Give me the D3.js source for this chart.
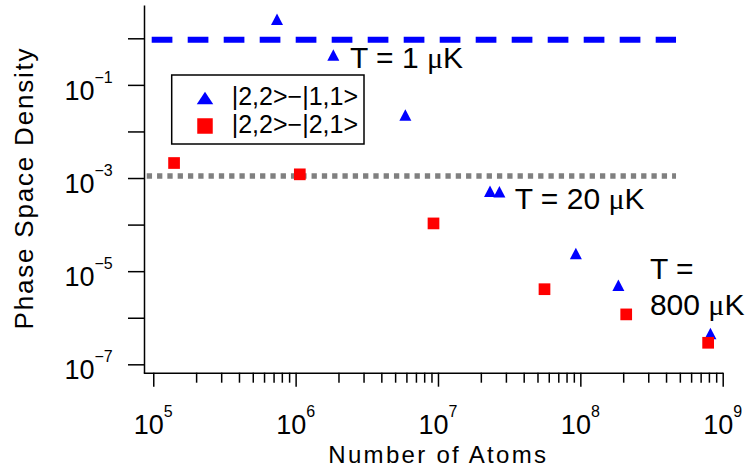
<!DOCTYPE html>
<html>
<head>
<meta charset="utf-8">
<script src="https://cdn.jsdelivr.net/npm/d3@7"></script>
<style>
  body { margin: 0; background: #fff; }
  text { font-family: "Liberation Sans", Arial, sans-serif; fill: #000; }
</style>
</head>
<body>
<script>
// Data (number of atoms vs phase space density)
const seriesNames = ["|2,2>\u2212|1,1>", "|2,2>\u2212|2,1>"];
const tripletAtoms = [7.4e5, 1.84e6, 5.9e6, 2.32e7, 2.7e7, 9.3e7, 1.85e8, 8.2e8];
const tripletPSD = [2.57, 0.44, 0.0225, 5.2e-4, 5.1e-4, 2.4e-5, 5.0e-6, 4.6e-7];
const doubletAtoms = [1.4e5, 1.07e6, 9.3e6, 5.6e7, 2.1e8, 7.9e8];
const doubletPSD = [2.1e-3, 1.2e-3, 1.06e-4, 4.1e-6, 1.18e-6, 2.9e-7];
// Reference levels
const levelNames = ["T = 1 \u03bcK", "T = 20 \u03bcK"];
const levelPSD = [0.93, 1.1e-3];
const levelAtomsStart = [9.75e4, 9.0e4];
const levelAtomsEnd = [4.7e8, 4.7e8];
// Ticks
const yMajorTicks = [1, 1e-1, 1e-2, 1e-3, 1e-4, 1e-5, 1e-6, 1e-7];
const yLabelExps = [-1, -3, -5, -7];
const xLabelExps = [5, 6, 7, 8, 9];

const width = 751, height = 469;
const blue = "#0000ff", red = "#ff0000", gray = "#808080";

const svg = d3.select("body").append("svg")
  .attr("width", width)
  .attr("height", height);

const x = d3.scaleLog().domain([Math.pow(10, 4.93), 1e9]).range([143.3, 722.7]);
const y = d3.scaleLog().domain([Math.pow(10, -7.18), Math.pow(10, 0.715)]).range([372.7, 5]);

// x ticks: 1..9 x 10^n
const xTicks = [];
for (let e = 5; e <= 8; e++) for (let m = 1; m <= 9; m++) xTicks.push(m * Math.pow(10, e));
xTicks.push(1e9);
const isMajor = v => Math.abs(Math.log10(v) - Math.round(Math.log10(v))) < 1e-9;

const xAxis = svg.append("g")
  .attr("transform", `translate(0,${372.7})`)
  .call(d3.axisBottom(x).tickValues(xTicks).tickFormat("").tickSizeOuter(0));
xAxis.selectAll(".tick line")
  .attr("y2", d => isMajor(d) ? 14 : 10);

const yAxis = svg.append("g")
  .attr("transform", `translate(${144},0)`)
  .call(d3.axisLeft(y).tickValues(yMajorTicks).tickFormat("").tickSize(16).tickSizeOuter(0));

svg.selectAll(".domain, .tick line")
  .attr("stroke", "#000")
  .attr("stroke-width", 1.5);

// tick labels with superscripts
const xLab = svg.append("g").selectAll("text")
  .data(xLabelExps).enter().append("text")
  .attr("x", d => x(Math.pow(10, d)))
  .attr("y", 434)
  .attr("text-anchor", "middle")
  .style("font-size", "27px");
xLab.append("tspan").text("10");
xLab.append("tspan").attr("dy", -17).style("font-size", "16px").text(d => d);

const yLab = svg.append("g").selectAll("text")
  .data(yLabelExps).enter().append("text")
  .attr("x", 112.7)
  .attr("y", d => y(Math.pow(10, d)) + 15)
  .attr("text-anchor", "end")
  .style("font-size", "27px");
yLab.append("tspan").text("10");
yLab.append("tspan").attr("dy", -17).style("font-size", "16px")
  .text(d => "\u2212" + Math.abs(d));

// axis titles
svg.append("text")
  .attr("x", 438.3).attr("y", 463)
  .attr("text-anchor", "middle")
  .style("font-size", "24px")
  .style("letter-spacing", "2.3px")
  .text("Number of Atoms");

svg.append("text")
  .attr("transform", "translate(33,188) rotate(-90)")
  .attr("text-anchor", "middle")
  .style("font-size", "26px")
  .style("letter-spacing", "1.8px")
  .text("Phase Space Density");

// reference level lines
svg.append("line")
  .attr("x1", x(levelAtomsStart[0])).attr("x2", x(levelAtomsEnd[0]))
  .attr("y1", y(levelPSD[0])).attr("y2", y(levelPSD[0]))
  .attr("stroke", blue).attr("stroke-width", 6)
  .attr("stroke-dasharray", "20.7,15.3");

svg.append("line")
  .attr("x1", x(levelAtomsStart[1])).attr("x2", x(levelAtomsEnd[1]))
  .attr("y1", y(levelPSD[1])).attr("y2", y(levelPSD[1]))
  .attr("stroke", gray).attr("stroke-width", 5.5)
  .attr("stroke-dasharray", "5.3,5");

// marker shapes
const triPath = (w, h) => `M0,${-h / 2}L${w / 2},${h / 2}L${-w / 2},${h / 2}Z`;
const sqPath = s => `M${-s / 2},${-s / 2}h${s}v${s}h${-s}Z`;

svg.append("g").selectAll("path")
  .data(d3.zip(tripletAtoms, tripletPSD)).enter().append("path")
  .attr("transform", d => `translate(${x(d[0])},${y(d[1])})`)
  .attr("d", triPath(12, 11.5))
  .attr("fill", blue);

svg.append("g").selectAll("path")
  .data(d3.zip(doubletAtoms, doubletPSD)).enter().append("path")
  .attr("transform", d => `translate(${x(d[0])},${y(d[1])})`)
  .attr("d", sqPath(11.7))
  .attr("fill", red);

// annotations (anchored in data space)
function annot(txt, ax, ay) {
  const t = svg.append("text")
    .attr("x", x(ax)).attr("y", y(ay))
    .style("font-size", "30px");
  const parts = txt.split("\u03bc");
  t.append("tspan").text(parts[0]);
  if (parts.length > 1) {
    t.append("tspan").style("font-family", "'Liberation Serif', serif").text("\u03bc");
    t.append("tspan").text(parts[1]);
  }
}
annot(levelNames[0], 2.41e6, 0.227);
annot(levelNames[1], 3.46e7, 2.13e-4);
annot("T =", 3.08e8, 6.7e-6);
annot("800 \u03bcK", 3.08e8, 1.15e-6);

// legend
const lg = svg.append("g");
lg.append("rect")
  .attr("x", 171.7).attr("y", 75)
  .attr("width", 192.3).attr("height", 69)
  .attr("fill", "#fff").attr("stroke", "#000").attr("stroke-width", 1.5);
lg.append("path").attr("transform", "translate(205,98)").attr("d", triPath(16.5, 12.5)).attr("fill", blue);
lg.append("path").attr("transform", "translate(205,126)").attr("d", sqPath(15.5)).attr("fill", red);
lg.selectAll("text.lab").data(seriesNames).enter().append("text")
  .attr("class", "lab")
  .attr("x", 231.7)
  .attr("y", (d, i) => 105 + i * 28.3)
  .style("font-size", "25px")
  .text(d => d);
</script>
</body>
</html>
